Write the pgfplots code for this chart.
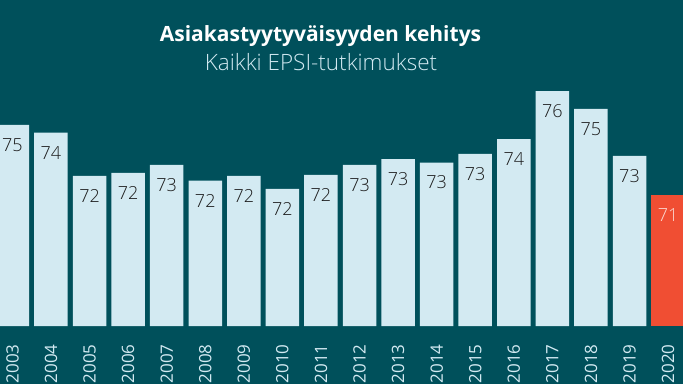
\documentclass[border=0pt]{standalone}
\usepackage{pgfplots}
\pgfplotsset{compat=1.18}
\usepackage{pgfplotstable}
\usepackage{fontspec}
\setmainfont{Open Sans}
\newfontfamily\lightfont{Open Sans Light}
\definecolor{bg}{HTML}{00505B}
\definecolor{barlight}{HTML}{D3EAF2}
\definecolor{barred}{HTML}{F04E33}
\definecolor{lbl}{HTML}{1A1A1A}
\definecolor{redlbl}{HTML}{FBDAD3}
\pgfplotstableread{
x y
0 74.66
1 74.31
2 72.34
3 72.48
4 72.84
5 72.13
6 72.34
7 71.75
8 72.39
9 72.84
10 73.11
11 72.95
12 73.34
13 74.02
14 76.20
15 75.39
16 73.25
}\mainbars
\pgfplotstableread{
x y
17 71.48
}\lastbar
\begin{document}
\begin{tikzpicture}
\useasboundingbox (0,-58pt) rectangle (683pt,326pt);
\fill[bg] (0,-58pt) rectangle (683pt,326pt);
\begin{axis}[
  at={(0,0)}, anchor=south west,
  scale only axis, width=683pt, height=326pt,
  xmin=-0.322, xmax=17.387,
  ymin=65.52, ymax=80.34,
  ybar, bar width=33.5pt,
  axis line style={draw=none}, tick style={draw=none},
  ytick=\empty,
  xtick={0,...,17},
  xticklabels={2003,2004,2005,2006,2007,2008,2009,2010,2011,2012,2013,2014,2015,2016,2017,2018,2019,2020},
  xticklabel style={rotate=90, anchor=east, font=\fontsize{17}{17}\selectfont, text=barlight, inner sep=0pt},
  xticklabel shift=14pt,
  /pgf/number format/assume math mode=true,
  nodes near coords,
  point meta=y,
  nodes near coords style={/pgf/number format/fixed, /pgf/number format/precision=0,
    anchor=center, yshift=-20pt, font=\lightfont\fontsize{18}{18}\selectfont},
]
\addplot[fill=barlight, draw=none, bar shift=0pt, nodes near coords style={text=lbl}] table[x=x,y=y] {\mainbars};
\addplot[fill=barred, draw=none, bar shift=0pt, nodes near coords style={text=redlbl}] table[x=x,y=y] {\lastbar};
\end{axis}
\node[anchor=base, text=white, font=\bfseries\fontsize{21}{21}\selectfont] at (320.5pt,285pt) {Asiakastyytyväisyyden kehitys};
\node[anchor=base, text=barlight, font=\lightfont\fontsize{22.5}{22.5}\selectfont] at (321pt,256pt) {Kaikki EPSI-tutkimukset};
\end{tikzpicture}
\end{document}
